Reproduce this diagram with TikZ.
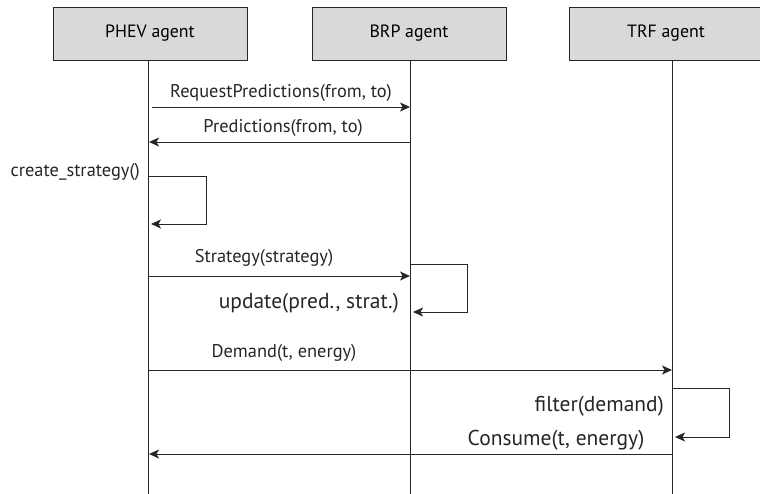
\documentclass[tikz,border=0pt]{standalone}
\usepackage{fontspec}
\setmainfont{PT Sans}
\usetikzlibrary{arrows.meta}
\definecolor{boxfill}{HTML}{D9D9D9}
\definecolor{ink}{HTML}{262626}
\tikzset{
  agent/.style={draw=ink, fill=boxfill, line width=0.9pt, minimum width=194pt, minimum height=53pt, inner sep=0pt, font=\fontsize{17.8}{20}\selectfont},
  life/.style={draw=ink, line width=0.9pt},
  msg/.style={draw=ink, line width=0.9pt, -{Stealth[length=10pt,width=9pt,inset=2.5pt]}},
  lbl/.style={inner sep=0pt, text=ink, font=\fontsize{18.4}{20}\selectfont},
  biglbl/.style={inner sep=0pt, text=ink, font=\fontsize{21.5}{24}\selectfont}
}
\begin{document}
\begin{tikzpicture}[x=1pt,y=-1pt]
\useasboundingbox (0,0) rectangle (760,494);
% agents
\node[agent] (phev) at (150,33.5) {PHEV agent};
\node[agent] (brp) at (409,33.5) {BRP agent};
\node[agent] (trf) at (666,33.5) {TRF agent};
% lifeline ends
\coordinate (phevEnd) at (148,494);
\coordinate (brpEnd) at (410,494);
\coordinate (trfEnd) at (672,494);
\draw[life] (148,60) coordinate (phevTop) -- (phevEnd);
\draw[life] (410,60) coordinate (brpTop) -- (brpEnd);
\draw[life] (672,60) coordinate (trfTop) -- (trfEnd);
% message endpoints
\coordinate (m1a) at (152,107);  \coordinate (m1b) at (410,107);
\coordinate (m2a) at (410,142);  \coordinate (m2b) at (149,142);
\coordinate (s1a) at (148,176);  \coordinate (s1b) at (206,176);
\coordinate (s1c) at (206,224);  \coordinate (s1d) at (151,224);
\coordinate (m3a) at (148,276);  \coordinate (m3b) at (410,276);
\coordinate (s2a) at (410,264);  \coordinate (s2b) at (467,264);
\coordinate (s2c) at (467,312);  \coordinate (s2d) at (413,312);
\coordinate (m4a) at (148,370);  \coordinate (m4b) at (672,370);
\coordinate (s3a) at (672,388);  \coordinate (s3b) at (729,388);
\coordinate (s3c) at (729,437);  \coordinate (s3d) at (675,437);
\coordinate (m5a) at (672,454);  \coordinate (m5b) at (149,454);
% messages
\draw[msg] (m1a) -- (m1b);
\draw[msg] (m2a) -- (m2b);
\draw[msg] (s1a) -- (s1b) -- (s1c) -- (s1d);
\draw[msg] (m3a) -- (m3b);
\draw[msg] (s2a) -- (s2b) -- (s2c) -- (s2d);
\draw[msg] (m4a) -- (m4b);
\draw[msg] (s3a) -- (s3b) -- (s3c) -- (s3d);
\draw[msg] (m5a) -- (m5b);
% labels
\node[lbl] (l1) at (281,93) {RequestPredictions(from, to)};
\node[lbl] (l2) at (283,128) {Predictions(from, to)};
\node[lbl, anchor=east] (l3) at (140,172) {create\_strategy()};
\node[lbl] (l4) at (264,258) {Strategy(strategy)};
\node[biglbl, anchor=east] (l5) at (399,303) {update(pred., strat.)};
\node[lbl] (l6) at (284,353) {Demand(t, energy)};
\node[biglbl, anchor=east] (l7) at (664,406) {filter(demand)};
\node[biglbl] (l8) at (556,440) {Consume(t, energy)};
\end{tikzpicture}
\end{document}
